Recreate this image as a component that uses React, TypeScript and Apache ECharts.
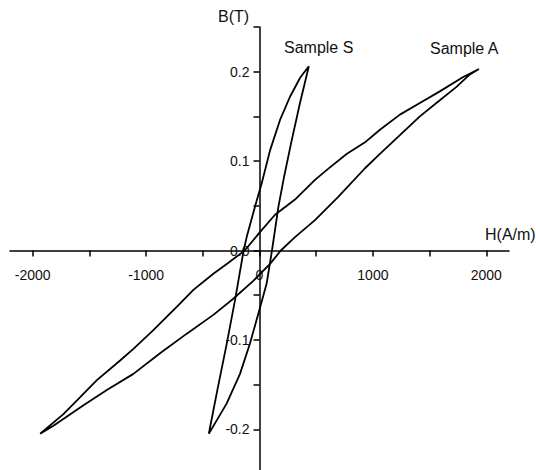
import React, { useEffect, useRef } from "react";
import * as echarts from "echarts";

// Sample A hysteresis loop: ascending (lower) branch then descending (upper) branch
const sampleAH = [
  -1934, -1817, -1552, -1346, -1112, -877, -641, -407, -231, -55, 93, 188, 313, 489, 694, 930, 1062, 1238, 1414, 1590, 1737, 1855, 1935,
  1796, 1590, 1414, 1238, 1062, 930, 768, 621, 489, 313, 137, 0, -130, -289, -407, -583, -730, -936, -1112, -1229, -1434, -1581, -1729, -1934,
];
const sampleAB = [
  -0.205, -0.196, -0.173, -0.156, -0.138, -0.115, -0.093, -0.072, -0.054, -0.034, -0.015, 0.0, 0.015, 0.034, 0.06, 0.092, 0.108, 0.129, 0.15, 0.168, 0.183, 0.197, 0.203,
  0.194, 0.178, 0.165, 0.152, 0.135, 0.121, 0.108, 0.093, 0.079, 0.057, 0.04, 0.02, 0.0, -0.015, -0.026, -0.044, -0.063, -0.089, -0.11, -0.123, -0.145, -0.164, -0.183, -0.205,
];

// Sample S hysteresis loop
const sampleSH = [
  -447, -377, -289, -172, -84, -11, 63, 110, 167, 216, 280, 357, 435,
  386, 357, 269, 181, 93, 19, -40, -113, -140, -215, -290, -370, -447,
];
const sampleSB = [
  -0.205, -0.19, -0.171, -0.138, -0.104, -0.071, -0.037, 0.0, 0.049, 0.082, 0.121, 0.165, 0.206,
  0.198, 0.193, 0.172, 0.146, 0.112, 0.075, 0.049, 0.015, 0.0, -0.055, -0.105, -0.155, -0.205,
];

const xLabelValues = [-2000, -1000, 0, 1000, 2000];
const xTickValues = [-2000, -1500, -1000, -500, 0, 500, 1000, 1500, 2000];
const yLabelValues = [-0.2, -0.1, 0, 0.1, 0.2];
const yTickValues = [-0.2, -0.15, -0.1, -0.05, 0, 0.05, 0.1, 0.15, 0.2, 0.25];

const xName = "H(A/m)";
const yName = "B(T)";
const seriesNames = ["Sample S", "Sample A"];

const textFont = "'Liberation Sans', Arial, sans-serif";

// grid geometry
const GRID_LEFT = 10;
const GRID_TOP = 27;
const GRID_W = 499;
const GRID_H = 447;
const X_MIN = -2200;
const X_MAX = 2200;
const Y_MIN = -0.25;
const Y_MAX = 0.25;

export default function App() {
  const ref = useRef<HTMLDivElement>(null);
  useEffect(() => {
    if (!ref.current) return;
    const chart = echarts.init(ref.current, undefined, { renderer: "svg" });
    const pairs = (h: number[], b: number[]) => h.map((v, i) => [v, b[i]]);
    // offsets that bring each axis onto the other's zero
    const xOffset = -(GRID_H * (0 - Y_MIN)) / (Y_MAX - Y_MIN);
    const yOffset = -(GRID_W * (0 - X_MIN)) / (X_MAX - X_MIN);
    const axisLine = { onZero: false, lineStyle: { color: "#000", width: 1.5 } };
    chart.setOption({
      animation: false,
      backgroundColor: "#fff",
      grid: { left: GRID_LEFT, top: GRID_TOP, width: GRID_W, height: GRID_H, containLabel: false, outerBoundsMode: "none" },
      xAxis: {
        type: "value",
        position: "bottom",
        offset: xOffset,
        min: X_MIN,
        max: X_MAX,
        axisLine,
        axisTick: { show: true, length: 6, customValues: xTickValues, lineStyle: { color: "#000", width: 1.5 } },
        axisLabel: {
          customValues: xLabelValues,
          margin: 17,
          fontSize: 14,
          fontFamily: textFont,
          color: "#111",
          formatter: (v: number) => String(v),
        },
        splitLine: { show: false },
      },
      yAxis: {
        type: "value",
        position: "left",
        offset: yOffset,
        min: Y_MIN,
        max: Y_MAX,
        axisLine,
        axisTick: { show: true, length: 6, customValues: yTickValues, lineStyle: { color: "#000", width: 1.5 } },
        axisLabel: {
          customValues: yLabelValues,
          margin: 10,
          fontSize: 14,
          fontFamily: textFont,
          color: "#111",
          formatter: (v: number) => v.toFixed(1),
        },
        splitLine: { show: false },
      },
      graphic: [
        { type: "text", x: 218, y: 16, style: { text: yName, font: `16px ${textFont}`, fill: "#111", align: "left", verticalAlign: "middle" } },
        { type: "text", x: 485, y: 234, style: { text: xName, font: `16px ${textFont}`, fill: "#111", align: "left", verticalAlign: "middle" } },
        { type: "text", x: 284, y: 47, style: { text: seriesNames[0], font: `16px ${textFont}`, fill: "#111", align: "left", verticalAlign: "middle" } },
        { type: "text", x: 430, y: 48, style: { text: seriesNames[1], font: `16px ${textFont}`, fill: "#111", align: "left", verticalAlign: "middle" } },
      ],
      series: [
        {
          name: seriesNames[0],
          type: "line",
          data: pairs(sampleSH, sampleSB),
          showSymbol: false,
          lineStyle: { color: "#000", width: 1.8 },
          clip: false,
        },
        {
          name: seriesNames[1],
          type: "line",
          data: pairs(sampleAH, sampleAB),
          showSymbol: false,
          lineStyle: { color: "#000", width: 1.8 },
          clip: false,
        },
      ],
    });
    return () => chart.dispose();
  }, []);
  return <div ref={ref} style={{ position: "absolute", left: 0, top: 0, width: 536, height: 470 }} />;
}
